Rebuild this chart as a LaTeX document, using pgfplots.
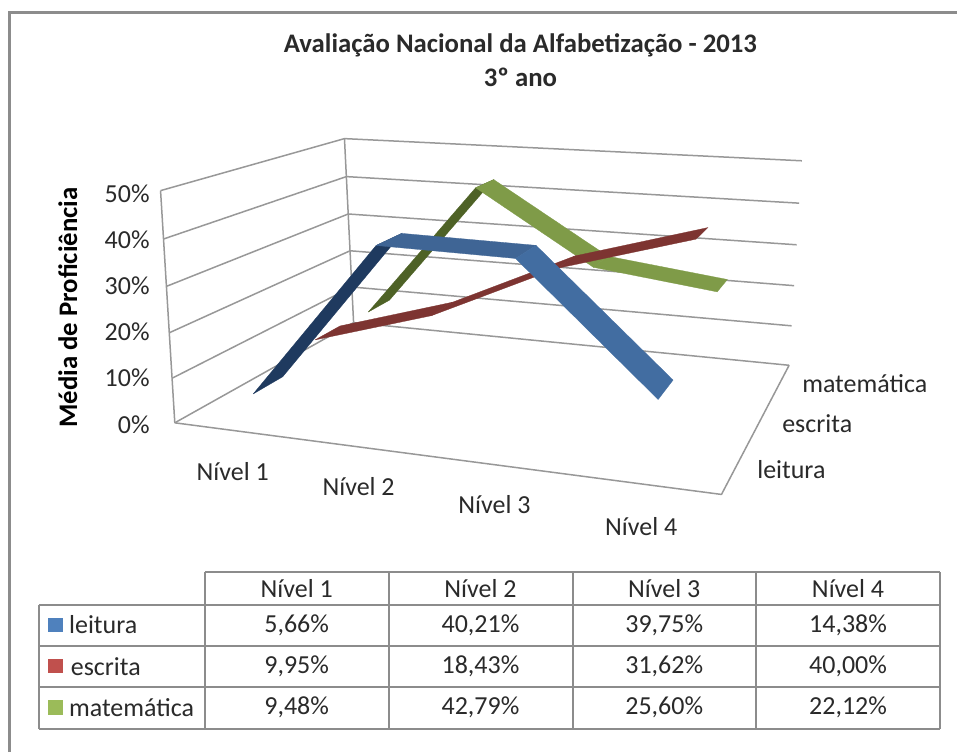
\documentclass[border=0pt]{standalone}
\usepackage{pgfplots}
\pgfplotsset{compat=1.18}
\usepackage{fontspec}
\setmainfont{Carlito}
\definecolor{gridc}{HTML}{989898}
\definecolor{framec}{HTML}{8C8C8C}
\definecolor{txt}{HTML}{2A2A2A}
\definecolor{bluedark}{HTML}{1F3A5F}
\definecolor{bluemid}{HTML}{3F6595}
\definecolor{bluelight}{HTML}{426DA1}
\definecolor{reddark}{HTML}{7D3431}
\definecolor{greendark}{HTML}{4E6226}
\definecolor{greenlight}{HTML}{7F9B48}
\definecolor{legblue}{HTML}{4F81BD}
\definecolor{legred}{HTML}{C0504D}
\definecolor{leggreen}{HTML}{9BBB59}
\newcommand\fs[1]{\fontsize{#1}{#1}\selectfont}
% one ribbon segment between levels #1 and #2, at depth #3, values in percent #4 #5
\newcommand\ribbon[6]{%
  \addplot[fill=#6,draw=#6,line width=0.3pt,forget plot] table[row sep=\\,
    x expr={pu((\thisrow{L}-0.5)/4,#3+\thisrow{S}*0.075,\thisrow{V}/50)},
    y expr={pv((\thisrow{L}-0.5)/4,#3+\thisrow{S}*0.075,\thisrow{V}/50)}] {
    L S V\\
    #1 -1 #4\\
    #2 -1 #5\\
    #2 1 #5\\
    #1 1 #4\\
    #1 -1 #4\\
  };}
% a polyline on the walls and floor: X (0..1), D (0..1), percent
\newcommand\wall[1]{%
  \addplot[draw=gridc,line width=1.5pt,forget plot,line join=round] table[row sep=\\,
    x expr={pu(\thisrow{X},\thisrow{D},\thisrow{P}/50)},
    y expr={pv(\thisrow{X},\thisrow{D},\thisrow{P}/50)}] {
    X D P\\
    #1
  };}
\newcommand\grid[1]{\wall{0 0 #1\\ 0 1 #1\\ 1 1 #1\\}}
\newcommand\tl[3]{\node[text=txt,font=\fs{26},inner sep=0pt] at (axis cs:#1,#2) {#3};}
\newcommand\hl[3]{\draw[framec,line width=2.1pt] (axis cs:#1,#3) -- (axis cs:#2,#3);}
\newcommand\vl[3]{\draw[framec,line width=2.1pt] (axis cs:#1,#2) -- (axis cs:#1,#3);}
\newcommand\wl[3]{\node[font=\fs{26},text=txt,anchor=west,inner sep=0pt] at (axis cs:#1,#2) {#3};}
\newcommand\el[3]{\node[font=\fs{26},text=txt,anchor=east,inner sep=0pt] at (axis cs:#1,#2) {#3};}
\begin{document}
\begin{tikzpicture}
\begin{axis}[
  at={(0pt,0pt)}, anchor=south west,
  scale only axis, width=958pt, height=753pt,
  xmin=0, xmax=958, ymin=0, ymax=753, y dir=reverse,
  hide axis, clip=false,
  declare function={
    pd(\x,\y,\z)=1-0.13316*\x+0.27595*\y-0.05*\z;
    pu(\x,\y,\z)=(451.12*\x+276.69*\y+(-22.3-6.6*\y+3.3*\x)*\z+175)/pd(\x,\y,\z);
    pv(\x,\y,\z)=(5.78*\x-11.17*\y-242*\z+423.3)/pd(\x,\y,\z);
  }
]
\fill[white] (axis cs:0,0) rectangle (axis cs:958,753);
% outer frame
\addplot[draw=framec,line width=2.2pt,forget plot] coordinates {(9.5,753) (9.5,12.5) (958,12.5)};
% walls
\grid{0}\grid{10}\grid{20}\grid{30}\grid{40}\grid{50}
\wall{0 0 0\\ 0 0 50\\}
\wall{0 1 0\\ 0 1 50\\}
\wall{0 0 0\\ 1 0 0\\ 1 1 0\\}
% matematica (back)
\ribbon{1}{2}{0.8333}{9.48}{42.79}{greendark}
\ribbon{2}{3}{0.8333}{42.79}{25.60}{greenlight}
\ribbon{3}{4}{0.8333}{25.60}{22.12}{greenlight}
% escrita
\ribbon{1}{2}{0.5}{9.95}{18.43}{reddark}
\ribbon{2}{3}{0.5}{18.43}{31.62}{reddark}
\ribbon{3}{4}{0.5}{31.62}{40.00}{reddark}
% leitura (front)
\ribbon{1}{2}{0.1667}{5.66}{40.21}{bluedark}
\ribbon{2}{3}{0.1667}{40.21}{39.75}{bluemid}
\ribbon{3}{4}{0.1667}{39.75}{14.38}{bluelight}
% title
\node[font=\fs{26.8}\bfseries,text=txt,inner sep=0pt] at (axis cs:521,45) {Avaliação Nacional da Alfabetização - 2013};
\node[font=\fs{26.8}\bfseries,text=txt,inner sep=0pt] at (axis cs:521,77) {3º ano};
% value axis
\node[font=\fs{26.8}\bfseries,text=black,rotate=90,inner sep=0pt] at (axis cs:68,308) {Média de Proficiência};
\el{150}{194}{50\%}
\el{150}{240}{40\%}
\el{150}{286}{30\%}
\el{150}{332}{20\%}
\el{150}{378}{10\%}
\el{150}{425}{0\%}
% category labels
\tl{233}{472}{Nível 1}
\tl{359}{487}{Nível 2}
\tl{495}{505}{Nível 3}
\tl{642}{527}{Nível 4}
% series labels
\wl{758}{470}{leitura}
\wl{783}{424}{escrita}
\wl{803}{384}{matemática}
% data table
\hl{205}{941}{572.7}
\hl{39}{941}{605.7}
\hl{39}{941}{646.7}
\hl{39}{941}{687.7}
\hl{39}{941}{730}
\vl{39}{605.7}{730}
\vl{205}{572.7}{730}
\vl{389.3}{572.7}{730}
\vl{573.3}{572.7}{730}
\vl{757.3}{572.7}{730}
\vl{941}{572.7}{730}
\tl{297}{589}{Nível 1}
\tl{481}{589}{Nível 2}
\tl{665}{589}{Nível 3}
\tl{849}{589}{Nível 4}
\tl{297}{626}{5,66\%}
\tl{481}{626}{40,21\%}
\tl{665}{626}{39,75\%}
\tl{849}{626}{14,38\%}
\tl{297}{667}{9,95\%}
\tl{481}{667}{18,43\%}
\tl{665}{667}{31,62\%}
\tl{849}{667}{40,00\%}
\tl{297}{708}{9,48\%}
\tl{481}{708}{42,79\%}
\tl{665}{708}{25,60\%}
\tl{849}{708}{22,12\%}
\fill[legblue] (axis cs:48,619) rectangle (axis cs:63,633);
\fill[legred] (axis cs:48,660) rectangle (axis cs:63,674);
\fill[leggreen] (axis cs:48,701) rectangle (axis cs:63,716);
\wl{69}{625}{leitura}
\wl{70.7}{667}{escrita}
\wl{69}{708}{matemática}
\end{axis}
\end{tikzpicture}
\end{document}
